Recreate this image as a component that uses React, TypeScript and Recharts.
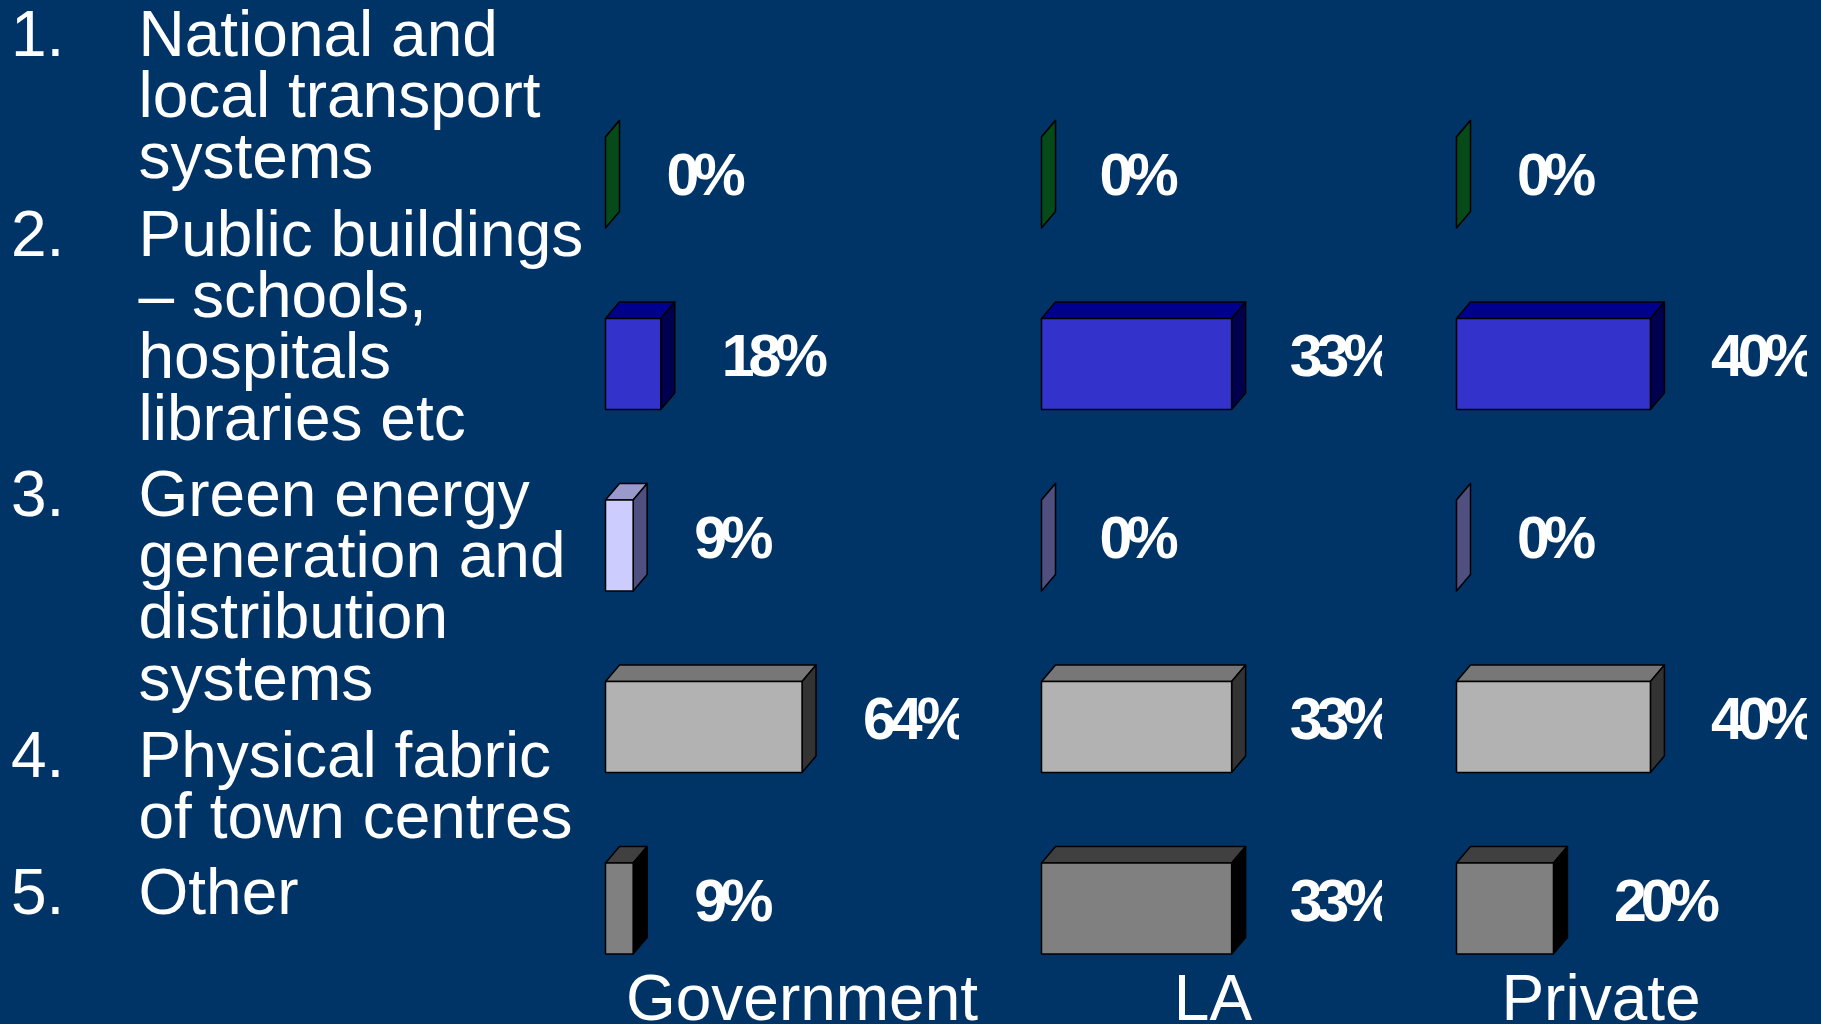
import { BarChart, Bar, XAxis, YAxis } from "recharts";

const rows = ["1", "2", "3", "4", "5"];
const governmentValues = [0, 18, 9, 64, 9];
const laValues = [0, 33, 0, 33, 33];
const privateValues = [0, 40, 0, 40, 20];

const listItems = [
  { no: "1.", lines: ["National and", "local transport", "systems"], top: 4 },
  { no: "2.", lines: ["Public buildings", "– schools,", "hospitals", "libraries etc"], top: 204 },
  { no: "3.", lines: ["Green energy", "generation and", "distribution", "systems"], top: 464 },
  { no: "4.", lines: ["Physical fabric", "of town centres"], top: 725 },
  { no: "5.", lines: ["Other"], top: 862 },
];

// front, top, side
const rowColors = [
  ["#0C9433", "#08681F", "#064A1A"],
  ["#3333CC", "#00008F", "#000050"],
  ["#CCCCFF", "#9999CC", "#4F4F80"],
  ["#B2B2B2", "#777777", "#333333"],
  ["#808080", "#404040", "#000000"],
];

const panels = [
  { name: "Government", values: governmentValues, left: 603, width: 356, max: 115.1, nameX: 802, gap: 61 },
  { name: "LA", values: laValues, left: 1039, width: 343, max: 59.1, nameX: 1213, gap: 58 },
  { name: "Private", values: privateValues, left: 1454, width: 353, max: 72.3, nameX: 1601, gap: 60.5 },
];

const DX = 14;
const DY = 16.5;
const FONT = "'Liberation Sans', Arial, sans-serif";

function Box3D(props: any) {
  const { x, y, width, height, index } = props;
  const [front, top, side] = rowColors[index];
  const r = x + width;
  const b = y + height;
  return (
    <g stroke="#000" strokeWidth={1.5} strokeLinejoin="round">
      <path d={`M${x},${y} L${x + DX},${y - DY} L${r + DX},${y - DY} L${r},${y} Z`} fill={top} />
      <path d={`M${r},${y} L${r + DX},${y - DY} L${r + DX},${b - DY} L${r},${b} Z`} fill={side} />
      <rect x={x} y={y} width={width} height={height} fill={front} />
    </g>
  );
}

function BarLabel(props: any) {
  const { x, y, width, height, value, gap } = props;
  return (
    <text
      x={x + width + gap}
      y={y + height / 2 + 12}
      fill="#fff"
      fontFamily={FONT}
      fontWeight="bold"
      fontSize={59}
      letterSpacing={-6}
    >
      {value}%
    </text>
  );
}

export default function App() {
  return (
    <div
      style={{
        position: "fixed",
        left: 0,
        top: 0,
        width: 1821,
        height: 1024,
        overflow: "hidden",
        background: "#003366",
        color: "#fff",
        fontFamily: FONT,
        fontSize: 64,
        lineHeight: "61.2px",
      }}
    >
      {listItems.map((item) => (
        <div key={item.no} style={{ position: "absolute", top: item.top, left: 0, whiteSpace: "nowrap" }}>
          <div style={{ position: "absolute", left: 11 }}>{item.no}</div>
          <div style={{ position: "absolute", left: 138.5 }}>
            {item.lines.map((line) => (
              <div key={line}>{line}</div>
            ))}
          </div>
        </div>
      ))}

      {panels.map((panel) => {
        const data = rows.map((row, i) => ({ row, value: panel.values[i] }));
        return (
          <div key={panel.name}>
            <div style={{ position: "absolute", left: panel.left, top: 0 }}>
              <BarChart
                width={panel.width}
                height={1024}
                layout="vertical"
                data={data}
                margin={{ top: 92, right: 0, bottom: 24.5, left: 2.5 }}
              >
                <XAxis type="number" domain={[0, panel.max]} hide />
                <YAxis type="category" dataKey="row" hide />
                <Bar
                  dataKey="value"
                  barSize={91}
                  isAnimationActive={false}
                  shape={<Box3D />}
                  label={<BarLabel gap={panel.gap} />}
                />
              </BarChart>
            </div>
            <div
              style={{
                position: "absolute",
                left: panel.nameX,
                top: 968,
                transform: "translateX(-50%)",
                whiteSpace: "nowrap",
              }}
            >
              {panel.name}
            </div>
          </div>
        );
      })}
    </div>
  );
}
